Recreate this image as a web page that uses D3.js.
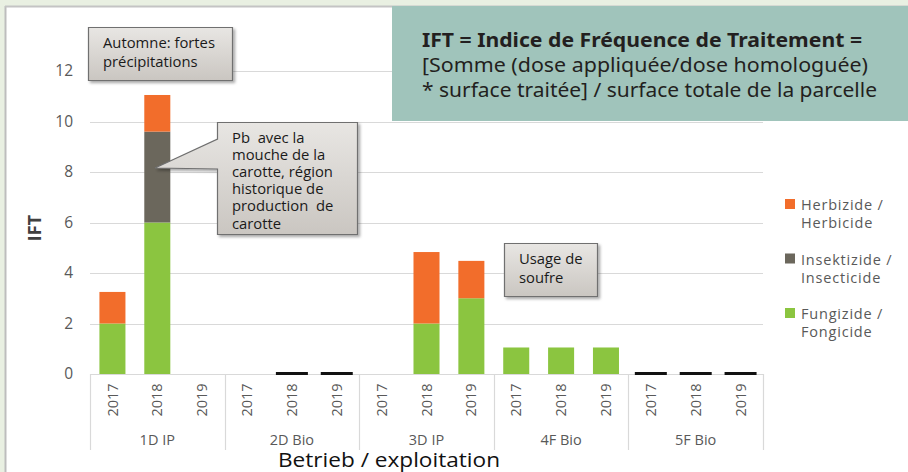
<!DOCTYPE html>
<html>
<head>
<meta charset="utf-8">
<script src="https://cdn.jsdelivr.net/npm/d3@7"></script>
<style>
  body { margin: 0; background: #e9f0e2; }
  svg { display: block; }
</style>
</head>
<body>
<div id="chart"></div>
<script>
// data
var groups = ["1D IP", "2D Bio", "3D IP", "4F Bio", "5F Bio"];
var years = ["2017", "2018", "2019"];
var fungicide   = [2, 6, 0,   0, 0, 0,   0, 2, 3,       1.05, 1.05, 1.05,   0, 0, 0];
var insecticide = [0, 3.6, 0, 0, 0, 0,   0, 0, 0,       0, 0, 0,            0, 0, 0];
var herbicide   = [1.25, 1.45, 0, 0, 0, 0, 0, 2.83, 1.48, 0, 0, 0,          0, 0, 0];
var zeroMark    = [0, 0, 0,   0, 1, 1,   0, 0, 0,       0, 0, 0,            1, 1, 1];
var yTicks = [0, 2, 4, 6, 8, 10, 12];
var seriesNames = ["fungicide", "insecticide", "herbicide"];
var legendLabels = [
  ["Herbizide /", "Herbicide"],
  ["Insektizide /", "Insecticide"],
  ["Fungizide /", "Fongicide"]
];

var colors = {fungicide: "#8bc540", insecticide: "#6b675c", herbicide: "#f26d2b"};

var W = 908, H = 472;
var svg = d3.select("#chart").append("svg")
    .attr("width", W).attr("height", H)
    .style("font-family", "'Open Sans', sans-serif");

var defs = svg.append("defs");
var grad = defs.append("linearGradient").attr("id", "boxGrad")
    .attr("x1", 0).attr("y1", 0).attr("x2", 0).attr("y2", 1);
grad.append("stop").attr("offset", "0%").attr("stop-color", "#e8e6e3");
grad.append("stop").attr("offset", "100%").attr("stop-color", "#cac6c1");
var sh = defs.append("filter").attr("id", "shadow")
    .attr("x", "-10%").attr("y", "-10%").attr("width", "130%").attr("height", "130%");
sh.append("feDropShadow").attr("dx", 2).attr("dy", 2).attr("stdDeviation", 1.5)
    .attr("flood-color", "#000").attr("flood-opacity", 0.35);

// frame
svg.append("rect").attr("x", 6).attr("y", 7).attr("width", W).attr("height", H)
    .attr("fill", "#fff");
svg.append("line").attr("x1", 5.5).attr("x2", 5.5).attr("y1", 6).attr("y2", H)
    .attr("stroke", "#bdbdbd").attr("stroke-width", 2);
svg.append("line").attr("x1", 5).attr("x2", W).attr("y1", 6.5).attr("y2", 6.5)
    .attr("stroke", "#c4c4c4").attr("stroke-width", 2);

// scales
var plotLeft = 90, plotRight = 763, plotTop = 71, plotBase = 374;
var keys = [];
groups.forEach(function(g) { years.forEach(function(yr) { keys.push(g + "|" + yr); }); });

var x = d3.scaleBand().domain(keys).range([plotLeft, plotRight])
    .paddingInner(0.42).paddingOuter(0.21);
var y = d3.scaleLinear().domain([0, 12]).range([plotBase, plotTop]);

// gridlines
svg.append("g").selectAll("line").data(yTicks).enter().append("line")
    .attr("x1", plotLeft).attr("x2", plotRight)
    .attr("y1", function(d) { return Math.round(y(d)) + 0.5; })
    .attr("y2", function(d) { return Math.round(y(d)) + 0.5; })
    .attr("stroke", "#d9d9d9").attr("stroke-width", 1.2);

// y axis labels
var yAxis = svg.append("g").attr("transform", "translate(73,0)")
    .call(d3.axisLeft(y).tickValues(yTicks).tickSize(0).tickPadding(0));
yAxis.select(".domain").remove();
yAxis.selectAll("text").attr("font-family", "'Open Sans', sans-serif")
    .attr("font-size", 15.5).attr("fill", "#595959");

svg.append("text").attr("transform", "translate(41,228) rotate(-90)")
    .attr("text-anchor", "middle").attr("font-size", 18).attr("font-weight", "bold")
    .attr("fill", "#404040").text("IFT");

// group separators
var step = x.step();
var seps = d3.range(groups.length + 1).map(function(i) { return plotLeft + i * 3 * step; });
svg.append("g").selectAll("line").data(seps).enter().append("line")
    .attr("x1", function(d) { return Math.round(d) + 0.5; })
    .attr("x2", function(d) { return Math.round(d) + 0.5; })
    .attr("y1", plotBase).attr("y2", 450)
    .attr("stroke", "#d9d9d9").attr("stroke-width", 1.2);

// stacked bars
var rows = keys.map(function(k, i) {
  return {key: k, fungicide: fungicide[i], insecticide: insecticide[i], herbicide: herbicide[i]};
});
var stack = d3.stack().keys(seriesNames)(rows);

svg.append("g").selectAll("g").data(stack).enter().append("g")
    .attr("fill", function(d) { return colors[d.key]; })
  .selectAll("rect").data(function(d) { return d.filter(function(s) { return s[1] - s[0] > 0; }); })
  .enter().append("rect")
    .attr("x", function(d) { return x(d.data.key); })
    .attr("width", x.bandwidth())
    .attr("y", function(d) { return y(d[1]); })
    .attr("height", function(d) { return y(d[0]) - y(d[1]); });

// zero markers
svg.append("g").selectAll("rect").data(keys.filter(function(k, i) { return zeroMark[i]; }))
  .enter().append("rect")
    .attr("x", function(d) { return x(d) + x.bandwidth() / 2 - 16; })
    .attr("width", 32)
    .attr("y", y(0) - 2).attr("height", 3)
    .attr("fill", "#111");

// x axis: years
var xAxis = svg.append("g").attr("transform", "translate(0," + plotBase + ")")
    .call(d3.axisBottom(x).tickSize(0).tickFormat(function(d) { return d.split("|")[1]; }));
xAxis.select(".domain").remove();
xAxis.selectAll("text")
    .attr("font-family", "'Open Sans', sans-serif").attr("font-size", 14.5).attr("fill", "#595959")
    .attr("transform", "rotate(-90)")
    .attr("x", -26).attr("y", 0).attr("dy", "0.35em")
    .attr("text-anchor", "middle");

// group labels
svg.append("g").selectAll("text").data(groups).enter().append("text")
    .attr("x", function(d, i) { return (seps[i] + seps[i + 1]) / 2; })
    .attr("y", 445).attr("text-anchor", "middle")
    .attr("font-size", 14.5).attr("fill", "#595959")
    .text(function(d) { return d; });

svg.append("text").attr("x", 278).attr("y", 467)
    .attr("font-size", 20).attr("fill", "#111")
    .attr("textLength", 222).attr("lengthAdjust", "spacingAndGlyphs")
    .text("Betrieb / exploitation");

// legend
var lg = svg.append("g").selectAll("g").data(["herbicide", "insecticide", "fungicide"])
  .enter().append("g")
    .attr("transform", function(d, i) { return "translate(785," + (199 + i * 54.5) + ")"; });
lg.append("rect").attr("width", 10).attr("height", 10)
    .attr("fill", function(d) { return colors[d]; });
lg.each(function(d, i) {
  var t = d3.select(this).append("text").attr("font-size", 14.5).attr("fill", "#595959")
      .attr("letter-spacing", 0.8);
  t.append("tspan").attr("x", 16).attr("y", 11).text(legendLabels[i][0]);
  t.append("tspan").attr("x", 16).attr("y", 29).text(legendLabels[i][1]);
});

// callout boxes
function callout(x0, y0, w, h, lines, x1, lh, pointer) {
  var g = svg.append("g").attr("filter", "url(#shadow)");
  var p = d3.path();
  p.moveTo(x0, y0); p.lineTo(x0 + w, y0); p.lineTo(x0 + w, y0 + h); p.lineTo(x0, y0 + h);
  if (pointer) {
    p.lineTo(x0, pointer[2]); p.lineTo(pointer[0], pointer[1]); p.lineTo(x0, pointer[3]);
  }
  p.closePath();
  g.append("path").attr("d", p.toString())
      .attr("fill", "url(#boxGrad)").attr("stroke", "#6f6f6f").attr("stroke-width", 1.2);
  var t = svg.append("text").attr("font-size", 14.8).attr("fill", "#1a1a1a");
  lines.forEach(function(l, i) {
    t.append("tspan").attr("x", x1).attr("y", y0 + 20 + i * lh).attr("xml:space", "preserve").text(l);
  });
}
callout(88.5, 27.5, 144, 53, ["Automne: fortes", "précipitations"], 103, 19);
callout(217.5, 122.5, 140, 112,
  ["Pb  avec la", "mouche de la", "carotte, région", "historique de", "production  de", "carotte"],
  232, 17.2, [155, 168, 169, 139]);
callout(504.5, 243.5, 93, 53, ["Usage de", "soufre"], 519, 19);

// definition box
svg.append("rect").attr("x", 392).attr("y", 6).attr("width", W - 392).attr("height", 115)
    .attr("fill", "#a0c4bb");
var defLines = [
  {t: "IFT = Indice de Fréquence de Traitement =", b: true, y: 47, w: 440},
  {t: "[Somme (dose appliquée/dose homologuée)", b: false, y: 72, w: 446},
  {t: "* surface traitée] / surface totale de la parcelle", b: false, y: 97, w: 455}
];
svg.append("g").selectAll("text").data(defLines).enter().append("text")
    .attr("x", 422).attr("y", function(d) { return d.y; })
    .attr("font-family", "'Noto Sans', sans-serif")
    .attr("font-size", 20)
    .attr("font-weight", function(d) { return d.b ? "bold" : "normal"; })
    .attr("fill", "#231f20")
    .attr("textLength", function(d) { return d.w; })
    .attr("lengthAdjust", "spacingAndGlyphs")
    .text(function(d) { return d.t; });
</script>
</body>
</html>
